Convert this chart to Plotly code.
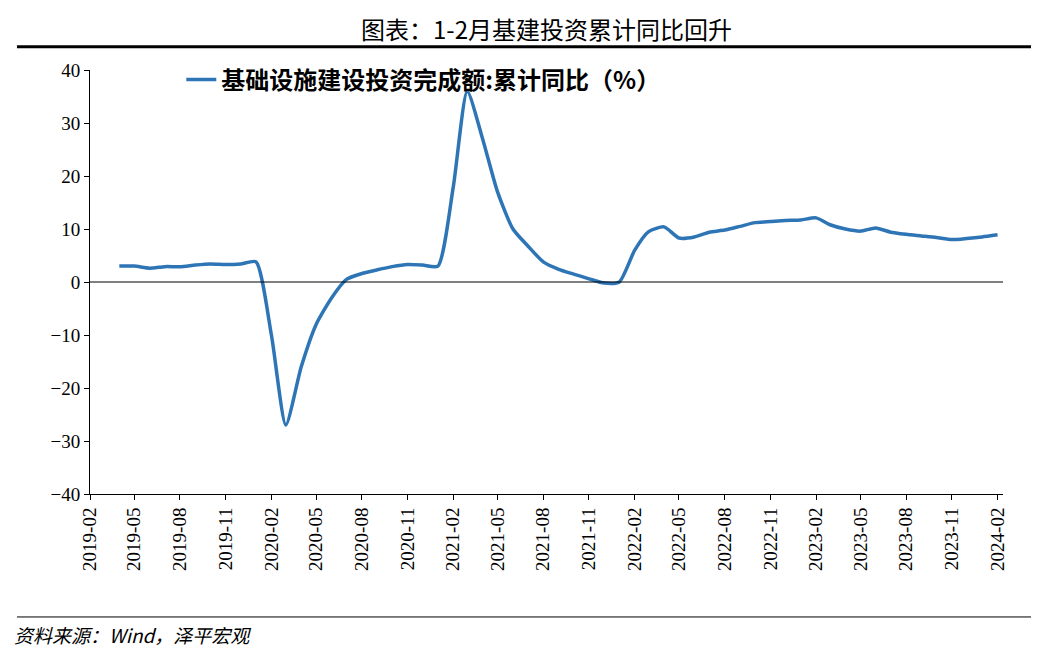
import plotly.graph_objects as go

months = ["2019-04","2019-05","2019-06","2019-07","2019-08","2019-09","2019-10","2019-11","2019-12",
"2020-01","2020-02","2020-03","2020-04","2020-05","2020-06","2020-07","2020-08","2020-09","2020-10","2020-11","2020-12",
"2021-01","2021-02","2021-03","2021-04","2021-05","2021-06","2021-07","2021-08","2021-09","2021-10","2021-11","2021-12",
"2022-01","2022-02","2022-03","2022-04","2022-05","2022-06","2022-07","2022-08","2022-09","2022-10","2022-11","2022-12",
"2023-01","2023-02","2023-03","2023-04","2023-05","2023-06","2023-07","2023-08","2023-09","2023-10","2023-11","2023-12",
"2024-01","2024-02"]
values = [3.0,3.0,2.6,2.9,2.9,3.2,3.4,3.3,3.4,
3.8,-10,-27,-16,-8,-3,0.5,1.6,2.3,2.9,3.3,3.2,
3.0,18,36,27,17,10,6.8,3.8,2.4,1.5,0.6,-0.2,
0.0,6,9.5,10.4,8.3,8.5,9.4,9.8,10.5,11.2,11.4,11.6,
11.7,12.1,10.8,10.0,9.6,10.2,9.4,9.0,8.7,8.4,8.0,8.2,
8.5,8.9]
dates = [m + "-01" for m in months]
tickvals = [f"{y}-{mm:02d}-01" for y in range(2019, 2025) for mm in (2, 5, 8, 11) if not (y == 2024 and mm > 2)]
ticktext = [t[:7] for t in tickvals]

fig = go.Figure(go.Scatter(x=dates, y=values, mode="lines",
                           line=dict(color="#2E75B6", width=3.5, shape="spline", smoothing=0.6),
                           name="基础设施建设投资完成额:累计同比（%）"))
fig.update_layout(
    width=1039, height=655, paper_bgcolor="white", plot_bgcolor="white",
    margin=dict(l=82, r=44, t=62, b=169),
    font=dict(family="Liberation Serif, Noto Sans CJK SC", size=19, color="black"),
    showlegend=True,
    legend=dict(x=0.1, y=1.03, xanchor="left", yanchor="top", bgcolor="rgba(0,0,0,0)",
                font=dict(size=24, family="Noto Sans CJK SC", weight="bold")),
    xaxis=dict(type="date", range=["2019-02-01", "2024-02-12"], tickvals=tickvals, ticktext=ticktext,
               tickangle=-90, showgrid=False, showline=True, linecolor="black", ticks="outside",
               ticklen=5, tickcolor="black", zeroline=False),
    yaxis=dict(range=[-40, 40], dtick=10, showgrid=False, showline=True, linecolor="black",
               ticks="outside", ticklen=5, tickcolor="black", zeroline=False),
    shapes=[
        dict(type="line", xref="paper", yref="y", x0=0, x1=1, y0=0, y1=0, line=dict(color="black", width=1)),
        dict(type="line", xref="paper", yref="paper", x0=-0.08, x1=1.045, y0=1.055, y1=1.055,
             line=dict(color="black", width=3)),
        dict(type="line", xref="paper", yref="paper", x0=-0.08, x1=1.045, y0=-0.29, y1=-0.29,
             line=dict(color="black", width=1)),
    ],
    annotations=[
        dict(text="图表：1-2月基建投资累计同比回升", xref="paper", yref="paper", x=0.5, y=1.145,
             showarrow=False, font=dict(size=24, family="Noto Sans CJK SC")),
        dict(text="<i>资料来源：Wind，泽平宏观</i>", xref="paper", yref="paper", x=-0.085, y=-0.295,
             xanchor="left", yanchor="top", showarrow=False, font=dict(size=19, family="Noto Sans CJK SC")),
    ],
)
fig.write_html("out.html")
